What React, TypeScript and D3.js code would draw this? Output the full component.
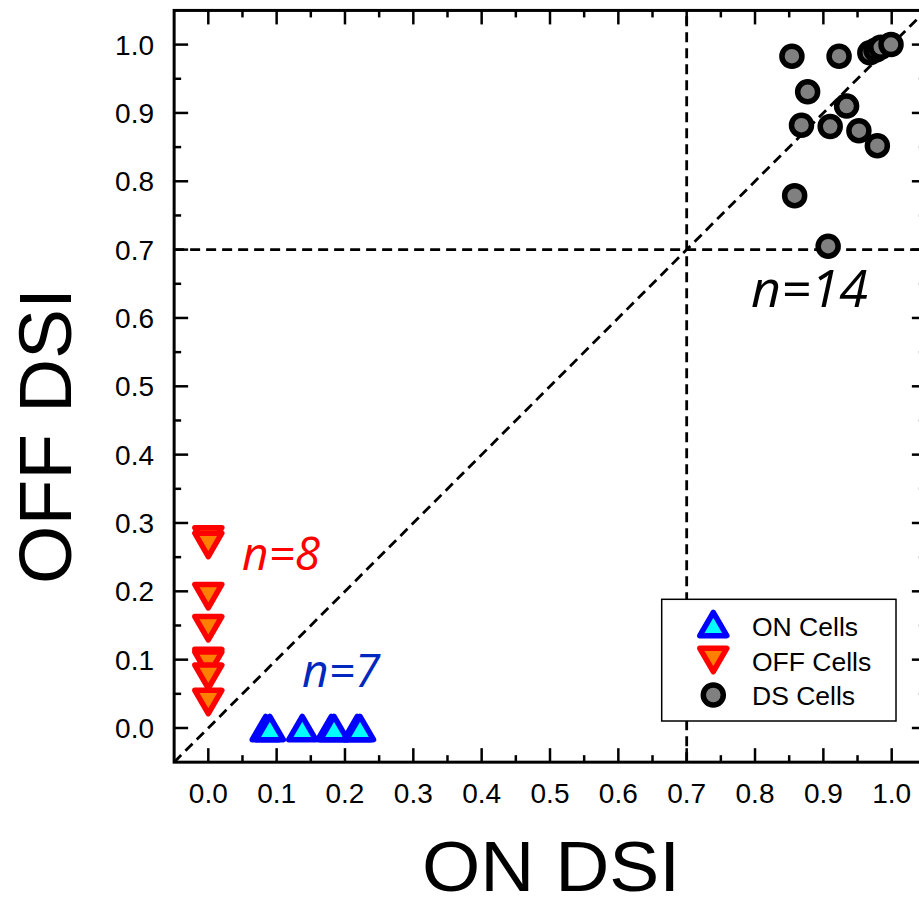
import React, { useEffect, useRef } from "react";
import * as d3 from "d3";

// ---- Data ----
const onX = [0.084, 0.09, 0.1375, 0.18, 0.184, 0.218, 0.222];
const onY = [0, 0, 0, 0, 0, 0, 0];
const offX = [0, 0, 0, 0, 0, 0, 0, 0];
const offY = [0.276, 0.268, 0.193, 0.146, 0.098, 0.094, 0.075, 0.038];
const dsX = [0.854, 0.923, 0.968, 0.977, 0.984, 0.999, 0.877, 0.934, 0.868, 0.91, 0.952, 0.979, 0.858, 0.907];
const dsY = [0.983, 0.983, 0.988, 0.992, 0.996, 1.0, 0.931, 0.91, 0.882, 0.88, 0.874, 0.852, 0.779, 0.705];
const majorTicks = [0, 0.1, 0.2, 0.3, 0.4, 0.5, 0.6, 0.7, 0.8, 0.9, 1.0];
const minorTicks = [0.05, 0.15, 0.25, 0.35, 0.45, 0.55, 0.65, 0.75, 0.85, 0.95];
const legendItems = ["ON Cells", "OFF Cells", "DS Cells"];
const nLabels = ["n=7", "n=8", "n=14"];

const W = 919;
const H = 905;

export default function App() {
  const ref = useRef<SVGSVGElement | null>(null);

  useEffect(() => {
    const svg = d3.select(ref.current);
    svg.selectAll("*").remove();

    const x = d3.scaleLinear().domain([0, 1]).range([208.3, 891.7]);
    const y = d3.scaleLinear().domain([0, 1]).range([728, 44.6]);
    const x0 = x(-0.05), x1 = x(1.05), y0 = y(-0.05), y1 = y(1.05);
    const font = "'Liberation Sans', Arial, sans-serif";

    const g = svg.append("g");

    // reference dashed lines
    const dash = "10,6";
    const dw = 2.8;
    g.append("line").attr("x1", x(0.7)).attr("x2", x(0.7)).attr("y1", y0).attr("y2", y1)
      .attr("stroke", "#000").attr("stroke-width", dw).attr("stroke-dasharray", dash);
    g.append("line").attr("x1", x0).attr("x2", x1).attr("y1", y(0.7)).attr("y2", y(0.7))
      .attr("stroke", "#000").attr("stroke-width", dw).attr("stroke-dasharray", dash);
    g.append("line").attr("x1", x0).attr("x2", x1).attr("y1", y0).attr("y2", y1)
      .attr("stroke", "#000").attr("stroke-width", dw).attr("stroke-dasharray", dash);

    // ticks (inward)
    const tk = g.append("g").attr("stroke", "#000").attr("stroke-width", 2.5);
    const addTicks = (vals: number[], len: number) => {
      vals.forEach((v) => {
        tk.append("line").attr("x1", x(v)).attr("x2", x(v)).attr("y1", y0).attr("y2", y0 - len);
        tk.append("line").attr("x1", x(v)).attr("x2", x(v)).attr("y1", y1).attr("y2", y1 + len);
        tk.append("line").attr("y1", y(v)).attr("y2", y(v)).attr("x1", x0).attr("x2", x0 + len);
        tk.append("line").attr("y1", y(v)).attr("y2", y(v)).attr("x1", x1).attr("x2", x1 - len);
      });
    };
    addTicks(majorTicks, 14);
    addTicks(minorTicks, 7);

    // axes frame
    g.append("rect").attr("x", x0).attr("y", y1).attr("width", x1 - x0).attr("height", y0 - y1)
      .attr("fill", "none").attr("stroke", "#000").attr("stroke-width", 3);

    // tick labels
    const fmt = d3.format(".1f");
    majorTicks.forEach((v) => {
      g.append("text").attr("x", x(v)).attr("y", 803).attr("text-anchor", "middle")
        .attr("font-family", font).attr("font-size", 28).text(fmt(v));
      g.append("text").attr("x", 154).attr("y", y(v) + 10).attr("text-anchor", "end")
        .attr("font-family", font).attr("font-size", 28).text(fmt(v));
    });

    // axis titles
    g.append("text").attr("x", 551).attr("y", 891).attr("text-anchor", "middle")
      .attr("font-family", font).attr("font-size", 70)
      .attr("textLength", 258).attr("lengthAdjust", "spacingAndGlyphs").text("ON DSI");
    g.append("text").attr("transform", "translate(70.7,436) rotate(-90)").attr("text-anchor", "middle")
      .attr("font-family", font).attr("font-size", 75).text("OFF DSI");

    // markers
    const side = 27;
    const h = side * Math.sqrt(3) / 2;
    const upPath = `M0,${-h / 2}L${side / 2},${h / 2}L${-side / 2},${h / 2}Z`;
    const downPath = `M0,${h / 2}L${side / 2},${-h / 2}L${-side / 2},${-h / 2}Z`;

    const drawOn = (px: number, py: number, parent: any) =>
      parent.append("path").attr("d", upPath).attr("transform", `translate(${px},${py})`)
        .attr("fill", "#00FFFF").attr("stroke", "#0000FF").attr("stroke-width", 5.5).attr("stroke-linejoin", "round");
    const drawOff = (px: number, py: number, parent: any) =>
      parent.append("path").attr("d", downPath).attr("transform", `translate(${px},${py})`)
        .attr("fill", "#FF8000").attr("stroke", "#FF0000").attr("stroke-width", 5.5).attr("stroke-linejoin", "round");
    const drawDs = (px: number, py: number, parent: any) =>
      parent.append("circle").attr("cx", px).attr("cy", py).attr("r", 10)
        .attr("fill", "#808080").attr("stroke", "#000").attr("stroke-width", 5.5);

    const m = g.append("g");
    onX.forEach((v, i) => drawOn(x(v), y(onY[i]), m));
    offX.forEach((v, i) => drawOff(x(v), y(offY[i]), m));
    dsX.forEach((v, i) => drawDs(x(v), y(dsY[i]), m));

    // n labels
    const nf = "'Open Sans', 'DejaVu Sans', sans-serif";
    g.append("text").attr("x", 302).attr("y", 687).attr("font-family", nf).attr("font-style", "italic")
      .attr("font-size", 46).attr("fill", "#0028BE").text(nLabels[0]);
    g.append("text").attr("x", 242).attr("y", 569.5).attr("font-family", nf).attr("font-style", "italic")
      .attr("font-size", 46).attr("fill", "#FF0000").text(nLabels[1]);
    g.append("text").attr("x", 751).attr("y", 306.7).attr("font-family", nf).attr("font-style", "italic")
      .attr("font-size", 52).attr("fill", "#000").text(nLabels[2]);

    // legend
    const lg = g.append("g");
    lg.append("rect").attr("x", 661.7).attr("y", 599.3).attr("width", 234.3).attr("height", 121.7)
      .attr("fill", "#fff").attr("stroke", "#000").attr("stroke-width", 1.5);
    const rows = [624, 660, 695];
    const textBase = [635.5, 670.5, 705];
    drawOn(713.3, rows[0], lg);
    drawOff(713.3, rows[1], lg);
    drawDs(713.3, rows[2], lg);
    legendItems.forEach((t, i) => {
      lg.append("text").attr("x", 752).attr("y", textBase[i]).attr("font-family", font)
        .attr("font-size", 26.5).text(t);
    });
  }, []);

  return (
    <svg
      ref={ref}
      width={W}
      height={H}
      style={{ position: "absolute", left: 0, top: 0, background: "#fff" }}
    />
  );
}
